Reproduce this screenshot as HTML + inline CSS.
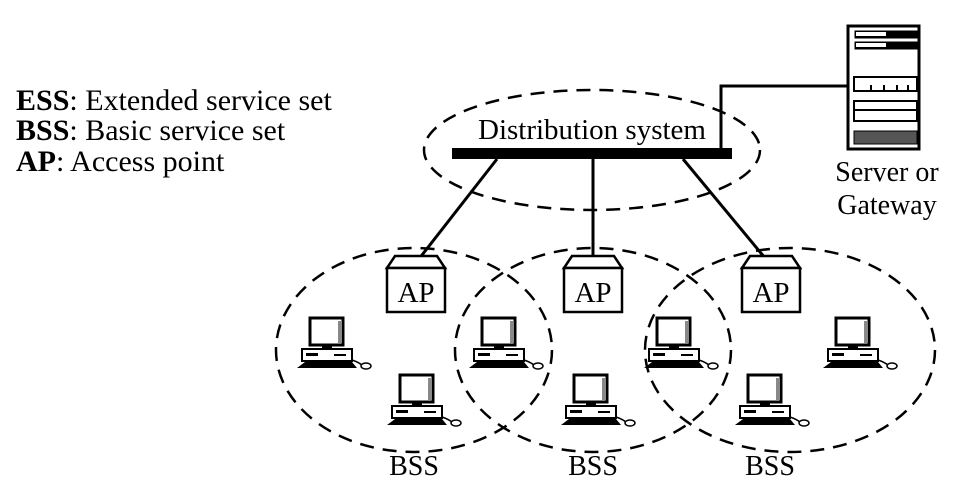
<!DOCTYPE html>
<html><head><meta charset="utf-8"><style>
body{margin:0;background:#fff}
svg{display:block}
text{font-family:"Liberation Serif",serif;fill:#000}
</style></head><body>
<svg width="975" height="492" viewBox="0 0 975 492" xmlns="http://www.w3.org/2000/svg">
<defs>
<g id="pc">
  <rect x="8" y="0" width="33" height="27" fill="#fff" stroke="#000" stroke-width="3"/>
  <rect x="36" y="3" width="4" height="22" fill="#888"/>
  <rect x="20" y="27" width="10" height="4" fill="#000"/>
  <rect x="0" y="31" width="50" height="12" fill="#fff" stroke="#000" stroke-width="2"/>
  <rect x="4" y="35" width="12" height="3" fill="#000"/>
  <rect x="32" y="36" width="12" height="2" fill="#000"/>
  <path d="M-5 50 L3 44 L50 44 L55 50 Z" fill="#000"/>
  <ellipse cx="64" cy="48" rx="5" ry="3" fill="#fff" stroke="#000" stroke-width="1.5"/>
  <path d="M50 42 Q56 44 60 47" fill="none" stroke="#000" stroke-width="1.5"/>
</g>
<g id="ap">
  <path d="M0 12 L8 0 L50 0 L58 12 Z" fill="#fff" stroke="#000" stroke-width="2.5"/>
  <rect x="0" y="12" width="58" height="44" fill="#fff" stroke="#000" stroke-width="2.5"/>
  <text x="29" y="46" font-size="29" text-anchor="middle">AP</text>
</g>
</defs>
<g font-size="30">
<text x="16" y="110"><tspan font-weight="bold">ESS</tspan>: Extended service set</text>
<text x="16" y="140"><tspan font-weight="bold">BSS</tspan>: Basic service set</text>
<text x="16" y="171"><tspan font-weight="bold">AP</tspan>: Access point</text>
</g>
<g fill="none" stroke="#000" stroke-width="2.5" stroke-dasharray="14 9">
<ellipse cx="592" cy="150" rx="168" ry="60"/>
<ellipse cx="414" cy="350" rx="138" ry="102"/>
<ellipse cx="593" cy="350" rx="138" ry="102"/>
<ellipse cx="790" cy="350" rx="145" ry="102"/>
</g>
<text x="592" y="139" font-size="29" text-anchor="middle">Distribution system</text>
<rect x="452" y="148" width="280" height="11" fill="#000"/>
<path d="M721 148 L721 86 L848 86" fill="none" stroke="#000" stroke-width="3"/>
<g stroke="#000" stroke-width="3">
<line x1="497" y1="159" x2="415" y2="264"/>
<line x1="593" y1="159" x2="593" y2="264"/>
<line x1="683" y1="159" x2="770" y2="264"/>
</g>
<use href="#ap" x="387" y="256"/>
<use href="#ap" x="564" y="256"/>
<use href="#ap" x="742" y="256"/>
<use href="#pc" x="302" y="318"/>
<use href="#pc" x="474" y="318"/>
<use href="#pc" x="649" y="318"/>
<use href="#pc" x="828" y="318"/>
<use href="#pc" x="392" y="375"/>
<use href="#pc" x="566" y="375"/>
<use href="#pc" x="740" y="375"/>
<g stroke="#000">
<rect x="848" y="26" width="71" height="123" fill="#fff" stroke-width="3"/>
<rect x="855" y="31" width="64" height="7" fill="#000" stroke-width="1"/>
<rect x="856" y="32" width="30" height="4" fill="#fff" stroke="none"/>
<rect x="855" y="42" width="64" height="7" fill="#000" stroke-width="1"/>
<rect x="856" y="43" width="30" height="4" fill="#fff" stroke="none"/>
<rect x="854" y="77" width="63" height="14" fill="#fff" stroke-width="2"/>
<path d="M871 91 v-6 M884 91 v-6 M897 91 v-6 M908 91 v-6" stroke-width="2"/>
<rect x="854" y="101" width="63" height="20" fill="#fff" stroke-width="2"/>
<line x1="854" y1="110" x2="917" y2="110" stroke-width="2"/>
<rect x="854" y="131" width="63" height="13" fill="#555" stroke-width="1"/>
</g>
<text x="887" y="181" font-size="28" text-anchor="middle">Server or</text>
<text x="887" y="214" font-size="28" text-anchor="middle">Gateway</text>
<g font-size="28" text-anchor="middle">
<text x="414" y="475">BSS</text>
<text x="593" y="475">BSS</text>
<text x="770" y="475">BSS</text>
</g>
</svg>
</body></html>
